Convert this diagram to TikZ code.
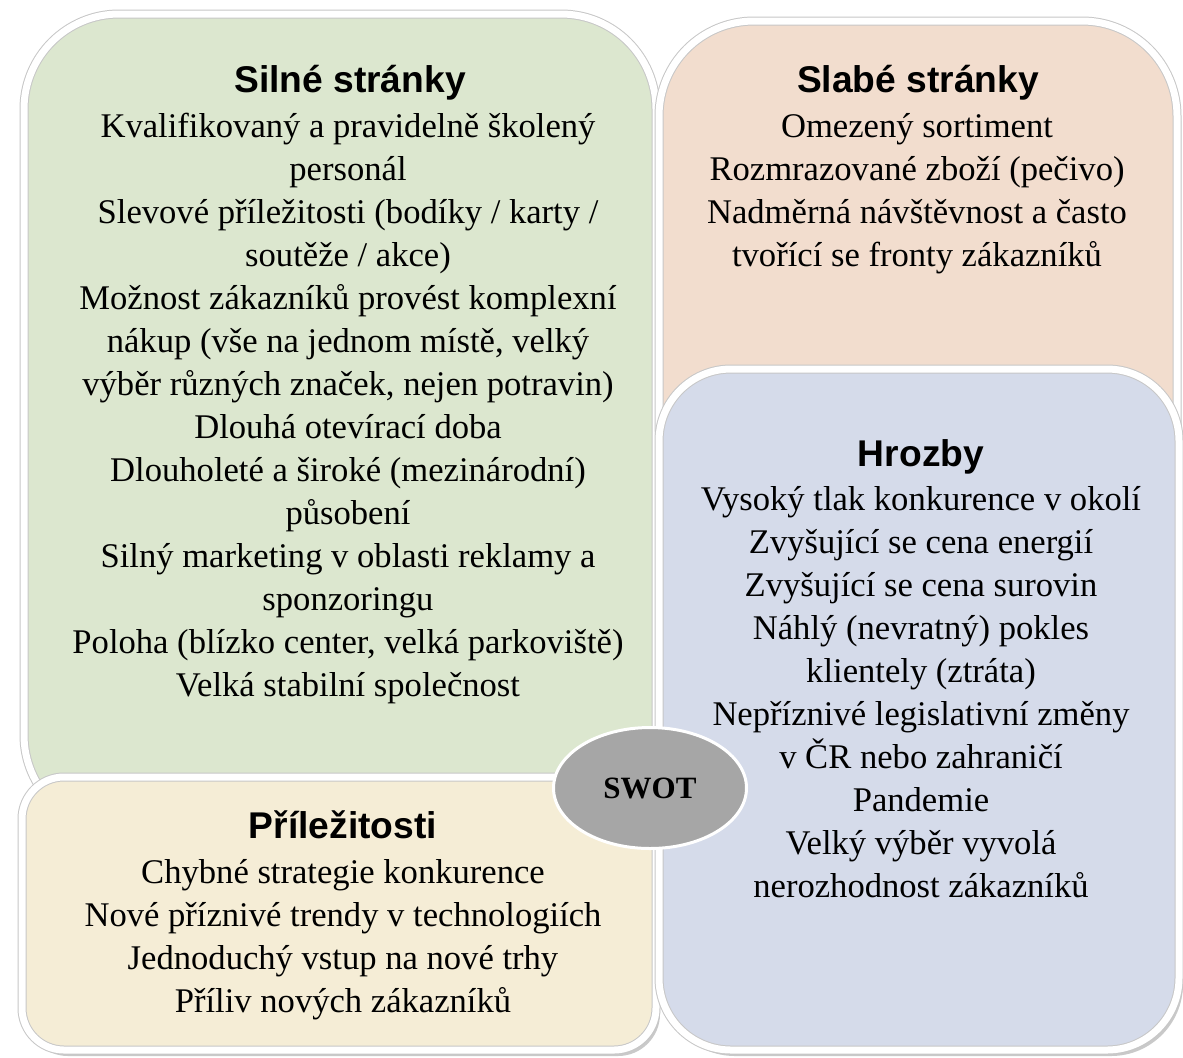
\documentclass[tikz,border=0pt]{standalone}
\usepackage{fontspec}
\setmainfont{Liberation Serif}
\newfontfamily\headfont{Liberation Sans}
\usetikzlibrary{shapes.geometric,shadows}

\definecolor{silnecol}{RGB}{220,231,207}
\definecolor{slabecol}{RGB}{242,221,206}
\definecolor{hrozbycol}{RGB}{213,219,234}
\definecolor{prilezcol}{RGB}{245,237,214}
\definecolor{swotcol}{RGB}{166,166,166}

\tikzset{
  quadrant/.style={draw=black!22,line width=0.5pt,double=white,double distance=3.5pt,
    drop shadow={shadow xshift=2pt,shadow yshift=-3pt,opacity=0.35,fill=black!60}},
  heading/.style={font=\headfont\bfseries\fontsize{18.6}{22}\selectfont,anchor=base,inner sep=0pt},
  item/.style={font=\fontsize{17.3}{21}\selectfont,anchor=base,inner sep=0pt}
}

\begin{document}
\begin{tikzpicture}[x=0.5pt,y=-0.5pt]
  \fill[white] (0,0) rectangle (1183,1057);
  \useasboundingbox (0,0) rectangle (1183,1057);
  % four quadrants
  \draw[quadrant,fill=silnecol,rounded corners=47.5pt] (24,14) rectangle (656,830);
  \draw[quadrant,fill=slabecol,rounded corners=47.5pt] (659,21) rectangle (1177,520);
  \draw[quadrant,fill=prilezcol,rounded corners=21pt] (22,777) rectangle (656,1050);
  \draw[quadrant,fill=hrozbycol,rounded corners=36pt] (659,369) rectangle (1179,1050);

  % strengths
  \node[heading] (silne) at (350,92) {Silné stránky};
  \foreach \t [count=\i from 0] in {Kvalifikovaný a pravidelně školený, personál,
      Slevové příležitosti (bodíky / karty /, soutěže / akce),
      Možnost zákazníků provést komplexní, {nákup (vše na jednom místě, velký},
      {výběr různých značek, nejen potravin)}, Dlouhá otevírací doba,
      Dlouholeté a široké (mezinárodní), působení,
      Silný marketing v oblasti reklamy a, sponzoringu,
      {Poloha (blízko center, velká parkoviště)}, Velká stabilní společnost}
    \node[item] (silne\i) at (348,{137+43*\i}) {\t};

  % weaknesses
  \node[heading] (slabe) at (918,92) {Slabé stránky};
  \foreach \t [count=\i from 0] in {Omezený sortiment, Rozmrazované zboží (pečivo),
      Nadměrná návštěvnost a často, tvořící se fronty zákazníků}
    \node[item] (slabe\i) at (917,{137+43*\i}) {\t};

  % threats
  \node[heading] (hrozby) at (921,466) {Hrozby};
  \foreach \t [count=\i from 0] in {Vysoký tlak konkurence v okolí, Zvyšující se cena energií,
      Zvyšující se cena surovin, Náhlý (nevratný) pokles, klientely (ztráta),
      Nepříznivé legislativní změny, v ČR nebo zahraničí, Pandemie,
      Velký výběr vyvolá, nerozhodnost zákazníků}
    \node[item] (hrozby\i) at (921,{510+43*\i}) {\t};

  % opportunities
  \node[heading] (prilez) at (343,838) {Příležitosti};
  \foreach \t [count=\i from 0] in {Chybné strategie konkurence, Nové příznivé trendy v technologiích,
      Jednoduchý vstup na nové trhy, Příliv nových zákazníků}
    \node[item] (prilez\i) at (343,{883+43*\i}) {\t};

  \node[ellipse,draw=white,line width=1.5pt,fill=swotcol,minimum width=96.5pt,minimum height=60.5pt,
    font=\bfseries\fontsize{15.5}{18}\selectfont] (swot) at (650,788) {SWOT};
\end{tikzpicture}
\end{document}
